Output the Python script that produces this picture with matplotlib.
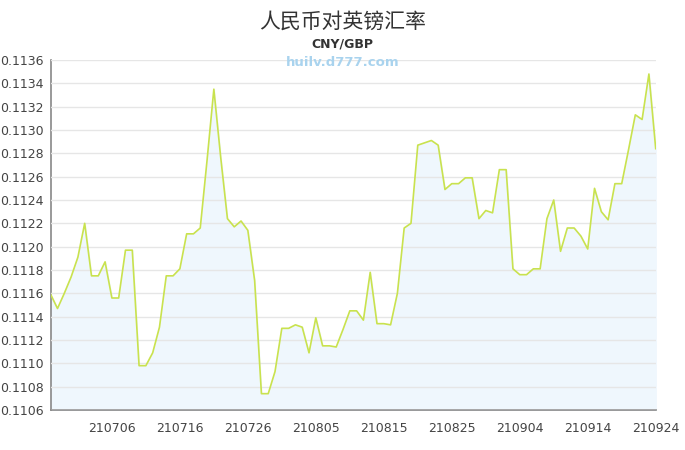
import numpy as np
import pandas as pd
import matplotlib
matplotlib.use("Agg")
import matplotlib.pyplot as plt

plt.rcParams["font.family"] = ["DejaVu Sans"]

# CNY/GBP daily rate, 2021-06-27 .. 2021-09-24
dates = pd.date_range("2021-06-27", "2021-09-24", freq="D").strftime("%y%m%d").tolist()
rates = [
    0.11159, 0.11147, 0.11160, 0.11174, 0.11191, 0.11220, 0.11175, 0.11175,
    0.11187, 0.11156, 0.11156, 0.11197, 0.11197, 0.11098, 0.11098, 0.11109,
    0.11131, 0.11175, 0.11175, 0.11181, 0.11211, 0.11211, 0.11216, 0.11274,
    0.11335, 0.11277, 0.11224, 0.11217, 0.11222, 0.11214, 0.11171, 0.11074,
    0.11074, 0.11093, 0.11130, 0.11130, 0.11133, 0.11131, 0.11109, 0.11139,
    0.11115, 0.11115, 0.11114, 0.11129, 0.11145, 0.11145, 0.11137, 0.11178,
    0.11134, 0.11134, 0.11133, 0.11160, 0.11216, 0.11220, 0.11287, 0.11289,
    0.11291, 0.11287, 0.11249, 0.11254, 0.11254, 0.11259, 0.11259, 0.11224,
    0.11231, 0.11229, 0.11266, 0.11266, 0.11181, 0.11176, 0.11176, 0.11181,
    0.11181, 0.11224, 0.11240, 0.11196, 0.11216, 0.11216, 0.11209, 0.11198,
    0.11250, 0.11230, 0.11223, 0.11254, 0.11254, 0.11283, 0.11313, 0.11309,
    0.11348, 0.11284,
]
tick_labels = ["210706", "210716", "210726", "210805", "210815",
               "210825", "210904", "210914", "210924"]
y_ticks = [0.1106 + 0.0002 * k for k in range(16)]

x = np.arange(len(rates))
tick_pos = [dates.index(t) for t in tick_labels]

fig = plt.figure(figsize=(6.85, 4.5), dpi=100)
ax = fig.add_axes([50.7 / 685, 40 / 450, 605 / 685, 350 / 450])

ax.fill_between(x, rates, 0.1106, color="#eff7fd", zorder=1)
ax.plot(x, rates, color="#c9e24e", linewidth=1.2, zorder=3)

ax.set_xlim(0, len(rates) - 1)
ax.set_ylim(0.1106, 0.1136)
ax.set_yticks(y_ticks)
ax.set_yticklabels([f"{v:.4f}" for v in y_ticks])
ax.set_xticks(tick_pos)
ax.set_xticklabels(tick_labels)
ax.tick_params(axis="both", length=0, labelsize=9, labelcolor="#444444")
ax.tick_params(axis="y", pad=5)
ax.tick_params(axis="x", pad=9)

ax.grid(axis="y", color="#e6e6e6", linewidth=1, zorder=2)
ax.set_axisbelow(False)
for side in ["top", "right"]:
    ax.spines[side].set_visible(False)
for side in ["left", "bottom"]:
    ax.spines[side].set_color("#888888")
    ax.spines[side].set_linewidth(1.2)

fig.text(0.5, 1 - 22 / 450, "人民币对英镑汇率", ha="center", va="center",
         fontsize=15, color="#333333",
         family=["Noto Sans CJK SC", "DejaVu Sans"])
fig.text(0.5, 1 - 44 / 450, "CNY/GBP", ha="center", va="center",
         fontsize=9, fontweight="bold", color="#333333")
fig.text(0.5, 1 - 62 / 450, "huilv.d777.com", ha="center", va="center",
         fontsize=9.5, fontweight="bold", color="#a9d3ee")

fig.savefig("out.png", dpi=100)
